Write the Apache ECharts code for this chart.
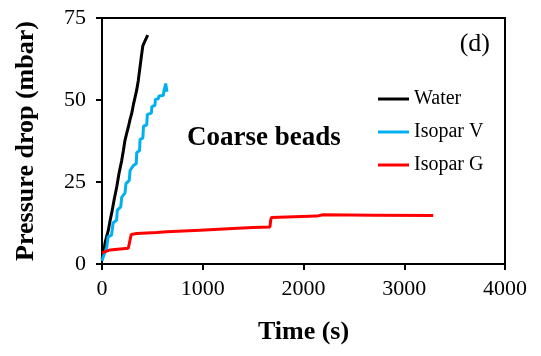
<!DOCTYPE html>
<html>
<head>
<meta charset="utf-8">
<script src="https://cdn.jsdelivr.net/npm/echarts@6/dist/echarts.min.js"></script>
<style>
html,body{margin:0;padding:0;background:#fff;}
#c{width:541px;height:356px;}
</style>
</head>
<body>
<div id="c"></div>
<script>
// Data
var xTicks = [0, 1000, 2000, 3000, 4000];
var yTicks = [0, 25, 50, 75];

var waterTime = [0, 13, 30, 47, 63, 80, 96, 120, 146, 170, 196, 212, 228, 245, 261, 278, 295, 311, 328, 344, 360, 377, 394, 405, 410, 427, 440, 454];
var waterP    = [1.5, 2.7, 6.4, 8.5, 10.3, 13.2, 15.5, 19.5, 23.5, 27.8, 31.6, 34.5, 37.7, 39.8, 41.7, 44.0, 45.9, 48.5, 50.8, 53.0, 55.9, 60.0, 64.0, 66.5, 66.0, 68.0, 68.5, 69.8];

var isoVTime = [0, 13, 35, 47, 60, 95, 110, 145, 152, 186, 196, 228, 238, 271, 278, 311, 340, 345, 372, 378, 405, 412, 444, 450, 490, 495, 526, 530, 559, 565, 608, 615, 625, 632, 642, 645];
var isoVP    = [1.0, 2.2, 4.0, 5.0, 8.3, 8.8, 12.5, 13.4, 16.4, 17.4, 20.4, 21.6, 24.5, 25.5, 28.5, 30.0, 30.6, 34.0, 34.5, 38.0, 38.4, 42.0, 42.4, 45.6, 46.0, 48.0, 48.4, 50.2, 50.4, 51.2, 51.4, 52.8, 53.0, 55.0, 55.2, 52.5];

var isoGTime = [0, 80, 180, 261, 278, 290, 344, 543, 642, 973, 1300, 1499, 1667, 1675, 1684, 2131, 2197, 2700, 3288];
var isoGP    = [3.4, 4.3, 4.6, 4.8, 5.3, 9.0, 9.3, 9.6, 9.8, 10.3, 10.8, 11.1, 11.3, 13.5, 14.2, 14.6, 15.0, 14.9, 14.8];

function pairs(xs, ys){ return xs.map(function(x,i){ return [x, ys[i]]; }); }

var serif = '"Liberation Serif","Times New Roman",serif';
var chart = echarts.init(document.getElementById('c'), null, {renderer:'canvas'});
chart.setOption({
  animation:false,
  backgroundColor:'#fff',
  grid:{left:102, right:36, top:18, bottom:92, show:true, borderColor:'#000', borderWidth:2, backgroundColor:'transparent'},
  xAxis:{
    type:'value', min:xTicks[0], max:xTicks[xTicks.length-1], interval:1000,
    name:'Time (s)', nameLocation:'middle', nameGap:55,
    nameTextStyle:{fontFamily:serif, fontSize:26, fontWeight:'bold', color:'#000'},
    axisLine:{show:true, lineStyle:{color:'#000', width:2}},
    axisTick:{show:true, inside:false, length:6, lineStyle:{color:'#000', width:2}},
    axisLabel:{fontFamily:serif, fontSize:22, color:'#000', margin:14, formatter:function(v){ return String(v); }},
    splitLine:{show:false}
  },
  yAxis:{
    type:'value', min:yTicks[0], max:yTicks[yTicks.length-1], interval:25,
    name:'Pressure drop (mbar)', nameLocation:'middle', nameGap:63, nameRotate:90,
    nameTextStyle:{fontFamily:serif, fontSize:26, fontWeight:'bold', color:'#000'},
    axisLine:{show:true, lineStyle:{color:'#000', width:2}},
    axisTick:{show:true, inside:false, length:6, lineStyle:{color:'#000', width:2}},
    axisLabel:{fontFamily:serif, fontSize:22, color:'#000', margin:16},
    splitLine:{show:false}
  },
  legend:{
    orient:'vertical', left:373, top:84, itemWidth:31, itemHeight:3, itemGap:13, icon:'rect',
    textStyle:{fontFamily:serif, fontSize:20, color:'#000', lineHeight:20},
    data:['Water','Isopar V','Isopar G']
  },
  graphic:[
    {type:'text', left:187, top:125, style:{text:'Coarse beads', fontFamily:serif, fontSize:27, fontWeight:'bold', fill:'#000'}},
    {type:'text', right:51, top:31, style:{text:'(d)', fontFamily:serif, fontSize:26, fill:'#000'}}
  ],
  series:[
    {name:'Water', type:'line', data:pairs(waterTime, waterP), symbol:'none', showSymbol:false, lineStyle:{color:'#000', width:3}, itemStyle:{color:'#000'}},
    {name:'Isopar V', type:'line', data:pairs(isoVTime, isoVP), symbol:'none', showSymbol:false, lineStyle:{color:'#00B0F0', width:3}, itemStyle:{color:'#00B0F0'}},
    {name:'Isopar G', type:'line', data:pairs(isoGTime, isoGP), symbol:'none', showSymbol:false, lineStyle:{color:'#FF0000', width:3}, itemStyle:{color:'#FF0000'}}
  ]
});
</script>
</body>
</html>
